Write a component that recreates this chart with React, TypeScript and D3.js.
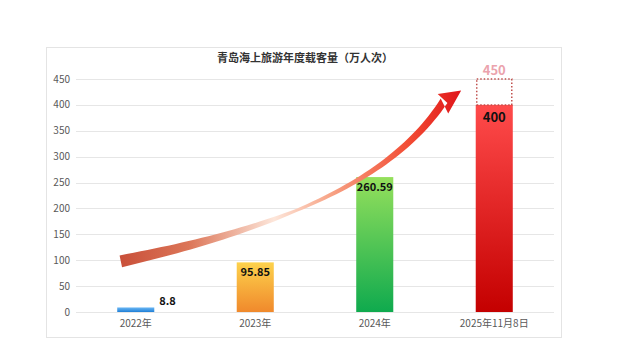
import React from "react";
import * as d3 from "d3";

const categories = ["2022年", "2023年", "2024年", "2025年11月8日"];
const values = [8.8, 95.85, 260.59, 400];
const valueLabels = ["8.8", "95.85", "260.59", "400"];
const targetValue = 450;
const targetLabel = "450";
const yTicks = [0, 50, 100, 150, 200, 250, 300, 350, 400, 450];
const title = "青岛海上旅游年度载客量（万人次）";
// decorative trend arrow control points: [category index, value]
const arrowCtrl: [number, number][] = [
  [-0.125, 98],
  [1.05, 155],
  [2.1, 238],
  [2.58, 408],
];

const gradients = [
  ["#6cb8f5", "#1f7fd6"],
  ["#fdd24c", "#f0892c"],
  ["#95e05c", "#0faa4e"],
  ["#ff4b4b", "#c40000"],
];

const W = 640, H = 360;
const M = { left: 76, right: 86, top: 79, bottom: 48 };

export default function App() {
  const x = d3.scaleBand<string>().domain(categories).range([M.left, W - M.right]).paddingInner(0.69).paddingOuter(0.345);
  const y = d3.scaleLinear().domain([0, 450]).range([H - M.bottom, M.top]);
  const bw = x.bandwidth();
  const xi = d3.scaleLinear().domain([0, 3]).range([x(categories[0])! + bw / 2, x(categories[3])! + bw / 2]);

  // arrow geometry
  const P = arrowCtrl.map(([i, v]) => [xi(i), y(v)]);
  const bez = (t: number) => {
    const a = (1 - t) ** 3, b = 3 * (1 - t) ** 2 * t, c = 3 * (1 - t) * t * t, d = t ** 3;
    return [a * P[0][0] + b * P[1][0] + c * P[2][0] + d * P[3][0], a * P[0][1] + b * P[1][1] + c * P[2][1] + d * P[3][1]];
  };
  const der = (t: number) => {
    const a = 3 * (1 - t) ** 2, b = 6 * (1 - t) * t, c = 3 * t * t;
    return [a * (P[1][0] - P[0][0]) + b * (P[2][0] - P[1][0]) + c * (P[3][0] - P[2][0]),
            a * (P[1][1] - P[0][1]) + b * (P[2][1] - P[1][1]) + c * (P[3][1] - P[2][1])];
  };
  const widthAt = (t: number) => {
    if (t < 0.45) return 12 - (9 * t) / 0.45;
    return 3 + (5 * (t - 0.45)) / 0.55;
  };
  const N = 60;
  const left: [number, number][] = [], right: [number, number][] = [];
  for (let k = 0; k <= N; k++) {
    const t = k / N;
    const [px, py] = bez(t);
    const [dx, dy] = der(t);
    const len = Math.hypot(dx, dy);
    const nx = -dy / len, ny = dx / len;
    const w = widthAt(t) / 2;
    left.push([px + nx * w, py + ny * w]);
    right.push([px - nx * w, py - ny * w]);
  }
  const [ex, ey] = bez(1);
  const [tdx, tdy] = der(1);
  const tl = Math.hypot(tdx, tdy);
  const ux = tdx / tl, uy = tdy / tl;
  const ang = Math.atan2(uy, ux) + 0.45;
  const hx = Math.cos(ang), hy = Math.sin(ang);
  const tip: [number, number] = [ex + hx * 20, ey + hy * 20];
  const hb1: [number, number] = [ex - hy * 13 - hx * 3, ey + hx * 13 - hy * 3];
  const hb2: [number, number] = [ex + hy * 9 - hx * 2, ey - hx * 9 - hy * 2];
  const line = d3.line();
  const arrowPath =
    line([...left, hb2, tip, hb1, ...right.slice().reverse()])! + "Z";

  const font = "'Noto Sans CJK SC', 'Noto Sans', sans-serif";

  return (
    <svg width={W} height={H} style={{ position: "absolute", left: 0, top: 0, background: "#fff" }} fontFamily={font}>
      <defs>
        {gradients.map((g, i) => (
          <linearGradient key={i} id={`bg${i}`} x1="0" y1="0" x2="0" y2="1">
            <stop offset="0" stopColor={g[0]} />
            <stop offset="1" stopColor={g[1]} />
          </linearGradient>
        ))}
        <linearGradient id="arrowG" gradientUnits="userSpaceOnUse" x1={P[0][0]} y1={0} x2={tip[0]} y2={0}>
          <stop offset="0" stopColor="#c9503a" />
          <stop offset="0.2" stopColor="#dc7658" />
          <stop offset="0.45" stopColor="#fde6da" />
          <stop offset="0.62" stopColor="#f7a284" />
          <stop offset="0.85" stopColor="#f24a32" />
          <stop offset="1" stopColor="#e0151a" />
        </linearGradient>
      </defs>
      <rect x={46.5} y={47.5} width={515} height={290} fill="#fff" stroke="#e4e4e4" />
      <text x={305} y={62} textAnchor="middle" fontSize={11} fontWeight="bold" fill="#333">{title}</text>
      {yTicks.map((t) => (
        <g key={t}>
          <line x1={M.left} x2={W - M.right} y1={Math.round(y(t)) + 0.5} y2={Math.round(y(t)) + 0.5} stroke="#e6e6e6" />
          <text x={70} y={y(t) + 3.5} textAnchor="end" fontSize={10} fill="#595959">{t}</text>
        </g>
      ))}
      {categories.map((c, i) => (
        <g key={c}>
          <rect x={x(c)} y={y(values[i])} width={bw} height={y(0) - y(values[i])} fill={`url(#bg${i})`} />
          <text x={x(c)! + bw / 2} y={y(0) + 15} textAnchor="middle" fontSize={10} fill="#595959">{c}</text>
        </g>
      ))}
      <text x={x(categories[0])! + bw + 5} y={y(values[0]) - 2} fontSize={11} fontWeight="bold" fill="#111">{valueLabels[0]}</text>
      {[1, 2, 3].map((i) => (
        <text key={i} x={x(categories[i])! + bw / 2} y={y(values[i]) + (i === 3 ? 17 : 14)} textAnchor="middle"
          fontSize={i === 3 ? 13 : 11} fontWeight="bold" fill="#111">{valueLabels[i]}</text>
      ))}
      <rect x={x(categories[3])! + 1} y={y(targetValue)} width={bw - 2} height={y(values[3]) - y(targetValue)}
        fill="none" stroke="#c0504d" strokeWidth={1.5} strokeDasharray="1.5 2" />
      <text x={x(categories[3])! + bw / 2} y={y(targetValue) - 4} textAnchor="middle" fontSize={13} fontWeight="bold" fill="#eba3ad">{targetLabel}</text>
      <path d={arrowPath} fill="url(#arrowG)" />
    </svg>
  );
}
